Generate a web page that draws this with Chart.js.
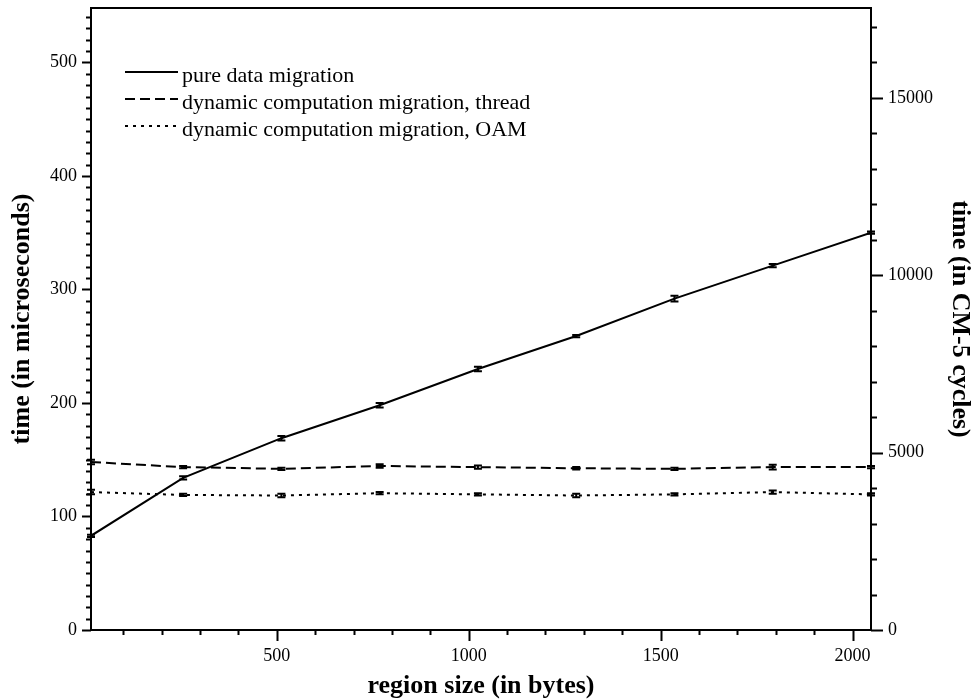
<!DOCTYPE html>
<html>
<head>
<meta charset="utf-8">
<script src="https://cdn.jsdelivr.net/npm/chart.js@4.4.1/dist/chart.umd.min.js"></script>
<style>
  html, body { margin: 0; padding: 0; background: #fff; }
  #wrap { width: 971px; height: 700px; }
</style>
</head>
<body>
<div id="wrap"><canvas id="migrationChart"></canvas></div>
<script>
const regionSizes = [16, 256, 512, 768, 1024, 1280, 1536, 1792, 2048];
const pureData    = [83, 134, 169, 198, 230, 259, 292, 321, 350];
const pureErr     = [1, 1.5, 2, 2, 2, 1, 2.5, 1.5, 1];
const dynThread   = [148, 143.5, 142, 144.5, 143.5, 142.5, 142, 143.5, 143.5];
const threadErr   = [2, 1, 1, 1.5, 1.5, 1, 1, 2, 1];
const dynOAM      = [121.5, 119, 118.5, 120.5, 119.5, 118.5, 119.5, 121.5, 119.5];
const oamErr      = [2, 1, 1.5, 1, 1, 1.5, 1, 1.5, 1];

const xTickLabels = [500, 1000, 1500, 2000];
const yTickLabels = [0, 100, 200, 300, 400, 500];
const cycleTickLabels = [0, 5000, 10000, 15000];
const cyclesPerMicrosecond = 32;
const yMax = 548;

const serif = "'Liberation Serif', 'Times New Roman', serif";

function toPoints(ys) {
    return regionSizes.map((x, i) => ({ x: x, y: ys[i] }));
}

// no extra padding from labels, fixed axis sizes
function fixSize(size) {
    return s => {
        if (s.isHorizontal()) s.height = size; else s.width = size;
        s.paddingTop = 0; s.paddingBottom = 0; s.paddingLeft = 0; s.paddingRight = 0;
    };
}

// frame, minor/major tick marks, error bars and legend
const decorPlugin = {
    id: 'decor',
    afterDatasetsDraw(chart) {
        const ctx = chart.ctx;
        const area = chart.chartArea;
        const sx = chart.scales.x, sy = chart.scales.y, sy2 = chart.scales.y2;
        ctx.save();
        ctx.strokeStyle = '#000';
        ctx.lineWidth = 2;
        ctx.setLineDash([]);
        ctx.strokeRect(area.left, area.top, area.right - area.left, area.bottom - area.top);

        ctx.beginPath();
        // left axis ticks
        for (let v = 0; v <= yMax; v += 10) {
            const len = v % 100 === 0 ? 9 : 5;
            const p = Math.round(sy.getPixelForValue(v)) + 0.5;
            ctx.moveTo(area.left - len, p);
            ctx.lineTo(area.left, p);
        }
        // right axis ticks
        for (let v = 0; v <= yMax * cyclesPerMicrosecond; v += 1000) {
            const len = v % 5000 === 0 ? 12 : 6;
            const p = Math.round(sy2.getPixelForValue(v)) + 0.5;
            ctx.moveTo(area.right, p);
            ctx.lineTo(area.right + len, p);
        }
        // bottom axis ticks
        for (let v = 100; v <= 2000; v += 100) {
            const len = v % 500 === 0 ? 11 : 5;
            const p = Math.round(sx.getPixelForValue(v)) + 0.5;
            ctx.moveTo(p, area.bottom);
            ctx.lineTo(p, area.bottom + len);
        }
        ctx.stroke();

        // error bars
        const errs = [pureErr, threadErr, oamErr];
        chart.data.datasets.forEach((ds, di) => {
            ctx.beginPath();
            ds.data.forEach((pt, i) => {
                const px = sx.getPixelForValue(pt.x);
                const top = sy.getPixelForValue(pt.y + errs[di][i]);
                const bot = sy.getPixelForValue(pt.y - errs[di][i]);
                ctx.moveTo(px, top); ctx.lineTo(px, bot);
                ctx.moveTo(px - 4, top); ctx.lineTo(px + 4, top);
                ctx.moveTo(px - 4, bot); ctx.lineTo(px + 4, bot);
            });
            ctx.stroke();
        });

        // legend
        ctx.font = '22px ' + serif;
        ctx.fillStyle = '#000';
        ctx.textBaseline = 'alphabetic';
        chart.data.datasets.forEach((ds, i) => {
            const ly = 72 + i * 27;
            ctx.setLineDash(ds.borderDash || []);
            ctx.beginPath();
            ctx.moveTo(125, ly);
            ctx.lineTo(178, ly);
            ctx.stroke();
            ctx.setLineDash([]);
            ctx.fillText(ds.label, 182, ly + 10);
        });
        ctx.restore();
    }
};

const tickFont = { family: serif, size: 18 };
const titleFont = { family: serif, size: 26, weight: 'bold' };
const plain = v => String(v);

const ctx = document.getElementById('migrationChart').getContext('2d');
new Chart(ctx, {
    type: 'line',
    data: {
        datasets: [
            {
                label: 'pure data migration',
                data: toPoints(pureData),
                borderColor: '#000',
                borderWidth: 2,
                pointRadius: 0,
                tension: 0,
                yAxisID: 'y'
            },
            {
                label: 'dynamic computation migration, thread',
                data: toPoints(dynThread),
                borderColor: '#000',
                borderWidth: 2,
                borderDash: [10, 5],
                pointRadius: 0,
                tension: 0,
                yAxisID: 'y'
            },
            {
                label: 'dynamic computation migration, OAM',
                data: toPoints(dynOAM),
                borderColor: '#000',
                borderWidth: 2,
                borderDash: [3, 5],
                pointRadius: 0,
                tension: 0,
                yAxisID: 'y'
            }
        ]
    },
    options: {
        responsive: true,
        maintainAspectRatio: false,
        animation: false,
        layout: { padding: { top: 8, left: 0, right: 0, bottom: 0 } },
        plugins: {
            legend: { display: false },
            tooltip: { enabled: false }
        },
        scales: {
            x: {
                type: 'linear',
                position: 'bottom',
                min: 16,
                max: 2048,
                grid: { display: false, drawTicks: false },
                border: { display: false },
                afterBuildTicks: s => { s.ticks = xTickLabels.map(v => ({ value: v })); },
                afterFit: fixSize(70),
                ticks: { color: '#000', font: tickFont, padding: 15, maxRotation: 0, callback: plain },
                title: {
                    display: true,
                    text: 'region size (in bytes)',
                    color: '#000',
                    font: titleFont,
                    padding: { top: 0, bottom: -2 }
                }
            },
            y: {
                type: 'linear',
                position: 'left',
                min: 0,
                max: yMax,
                grid: { display: false, drawTicks: false },
                border: { display: false },
                afterBuildTicks: s => { s.ticks = yTickLabels.map(v => ({ value: v })); },
                afterFit: fixSize(91),
                ticks: { color: '#000', font: tickFont, padding: 14, callback: plain },
                title: {
                    display: true,
                    text: 'time (in microseconds)',
                    color: '#000',
                    font: titleFont,
                    padding: { top: 7, bottom: 0 }
                }
            },
            y2: {
                type: 'linear',
                position: 'right',
                min: 0,
                max: yMax * cyclesPerMicrosecond,
                grid: { display: false, drawTicks: false },
                border: { display: false },
                afterBuildTicks: s => { s.ticks = cycleTickLabels.map(v => ({ value: v })); },
                afterFit: fixSize(100),
                ticks: { color: '#000', font: tickFont, padding: 17, callback: plain },
                title: {
                    display: true,
                    text: 'time (in CM-5 cycles)',
                    color: '#000',
                    font: titleFont,
                    padding: { top: -4, bottom: 0 }
                }
            }
        }
    },
    plugins: [decorPlugin]
});
</script>
</body>
</html>
